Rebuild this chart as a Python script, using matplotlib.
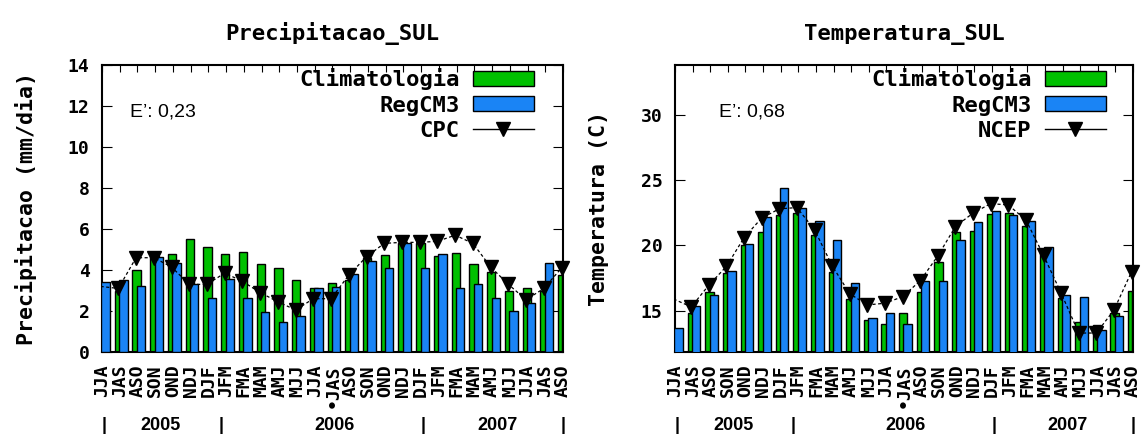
import matplotlib
matplotlib.use('Agg')
import matplotlib.pyplot as plt
import matplotlib.transforms as mtransforms
from matplotlib.patches import Patch
from matplotlib.lines import Line2D

seasons = ['JJA', 'JAS', 'ASO', 'SON', 'OND', 'NDJ', 'DJF', 'JFM', 'FMA', 'MAM', 'AMJ', 'MJJ',
           'JJA', '\u2022JAS', 'ASO', 'SON', 'OND', 'NDJ', 'DJF', 'JFM', 'FMA', 'MAM', 'AMJ', 'MJJ',
           'JJA', 'JAS', 'ASO']

# precipitacao (mm/dia)
prec_clim = [3.0, 3.0, 4.0, 4.7, 4.78, 5.5, 5.1, 4.76, 4.86, 4.3, 4.08, 3.5, 3.14, 3.35,
             3.5, 4.6, 4.73, 5.3, 5.3, 4.7, 4.85, 4.28, 3.9, 3.0, 3.1, 3.0, 3.76]
prec_regcm = [3.43, 3.5, 3.24, 4.65, 4.33, 3.3, 2.65, 3.54, 2.65, 1.97, 1.48, 1.76, 3.1, 3.19,
              3.8, 4.45, 4.08, 5.3, 4.08, 4.76, 3.14, 3.3, 2.65, 2.0, 2.37, 4.36, 4.0]
prec_cpc = [3.2, 3.1, 4.6, 4.6, 4.15, 3.3, 3.3, 3.85, 3.45, 2.9, 2.45, 2.05, 2.6, 2.6,
            3.75, 4.65, 5.3, 5.35, 5.35, 5.4, 5.7, 5.3, 4.15, 3.3, 2.55, 3.1, 4.1]

# temperatura (C)
temp_clim = [13.5, 14.8, 16.45, 17.86, 20.0, 21.05, 22.3, 22.45, 20.8, 18.0, 15.94, 14.3, 14.0, 14.86,
             16.45, 18.75, 21.0, 21.08, 22.4, 22.5, 21.5, 19.6, 16.0, 14.18, 13.95, 14.8, 16.48]
temp_regcm = [13.65, 15.36, 16.2, 18.04, 20.1, 22.2, 24.4, 22.9, 21.9, 20.4, 17.1, 14.42, 14.86, 14.0,
              17.25, 17.25, 20.4, 21.78, 22.64, 22.3, 21.9, 19.92, 16.22, 16.08, 13.5, 14.6, 16.5]
temp_ncep = [15.9, 15.3, 16.96, 18.4, 20.6, 22.1, 22.8, 22.9, 21.2, 18.45, 16.3, 15.45, 15.58, 16.08,
             17.3, 19.2, 21.45, 22.48, 23.2, 23.1, 21.95, 19.25, 16.35, 13.3, 13.3, 15.06, 18.0]

years = ['2005', '2006', '2007']
year_pos = [3.3, 13.1, 22.3]
year_sep = [0.1, 6.7, 18.1, 26.0]

GREEN = '#00c000'
BLUE = '#1a84f5'
MONO = 'DejaVu Sans Mono'

fig = plt.figure(figsize=(11.41, 4.36), dpi=100)


def panel(rect, clim, regcm, obs, obs_name, title, ylabel, ylim, yticks, etext, ex, lx, ylab_x):
    ax = fig.add_axes(rect)
    x = list(range(len(seasons)))
    ax.bar([i - 0.28 for i in x], clim, width=0.47, align='edge', color=GREEN,
           edgecolor='black', linewidth=1.0, zorder=2)
    ax.bar([i - 0.03 for i in x], regcm, width=0.47, align='edge', color=BLUE,
           edgecolor='black', linewidth=1.0, zorder=3)
    xo = [i - 0.08 for i in x]
    ax.plot(xo, obs, color='black', linestyle=(0, (2.5, 2)), linewidth=0.9, zorder=4)
    ax.plot(xo[1:], obs[1:], linestyle='none', marker='v', color='black', markersize=10,
            zorder=5, clip_on=False)

    ax.set_xlim(0, 26)
    ax.set_ylim(*ylim)
    ax.set_yticks(yticks)
    ax.set_xticks(x)
    ax.set_xticklabels(seasons, rotation=90, family=MONO, fontweight='bold', fontsize=13)
    for lab in ax.get_yticklabels():
        lab.set_family(MONO)
        lab.set_fontweight('bold')
        lab.set_fontsize(13)
    ax.tick_params(axis='x', direction='in', top=True, bottom=False, length=5, pad=9)
    ax.tick_params(axis='y', direction='in', left=True, right=True, length=7, pad=9)
    for s in ax.spines.values():
        s.set_linewidth(1.5)

    ax.set_title(title, family=MONO, fontweight='bold', fontsize=16, pad=18)
    ax.set_ylabel(ylabel, family=MONO, fontweight='bold', fontsize=15.5)
    ax.yaxis.set_label_coords(ylab_x, 0.5)

    ax.text(ex, 0.835, etext, transform=ax.transAxes, fontsize=14,
            family='Liberation Sans', va='center', ha='left')

    handles = [Patch(facecolor=GREEN, edgecolor='black', linewidth=1.0),
               Patch(facecolor=BLUE, edgecolor='black', linewidth=1.0),
               Line2D([], [], color='black', linewidth=1.0, marker='v', markersize=10)]
    ax.legend(handles, ['Climatologia', 'RegCM3', obs_name], loc='upper right',
              bbox_to_anchor=(lx, 0.99), frameon=False, markerfirst=False,
              prop={'family': MONO, 'weight': 'bold', 'size': 16},
              handlelength=2.75, handleheight=0.65, handletextpad=0.6,
              labelspacing=0.25, borderaxespad=0, borderpad=0)

    tr = mtransforms.blended_transform_factory(ax.transData, fig.transFigure)
    for p in year_sep:
        ax.text(p, 0.025, '|', transform=tr, ha='center', va='center',
                family='Liberation Sans', fontweight='bold', fontsize=13)
    for p, y in zip(year_pos, years):
        ax.text(p, 0.025, y, transform=tr, ha='center', va='center',
                family='Liberation Sans', fontweight='bold', fontsize=13)
    return ax


panel([0.0894, 0.1927, 0.404, 0.658], prec_clim, prec_regcm, prec_cpc, 'CPC',
      'Precipitacao_SUL', 'Precipitacao (mm/dia)', (0, 14), range(0, 15, 2),
      "E\u2019: 0,23", 0.061, 0.937, -0.14)
panel([0.5916, 0.1927, 0.4014, 0.658], temp_clim, temp_regcm, temp_ncep, 'NCEP',
      'Temperatura_SUL', 'Temperatura (C)', (11.85, 33.8), [15, 20, 25, 30],
      "E\u2019: 0,68", 0.096, 0.941, -0.145)

fig.savefig('out.png', dpi=100)
